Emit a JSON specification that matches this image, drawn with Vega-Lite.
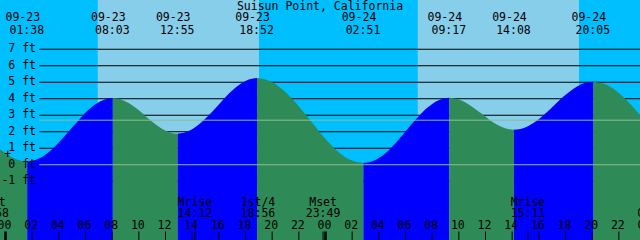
{
  "$schema": "https://vega.github.io/schema/vega-lite/v6.json",
  "width": 640,
  "height": 240,
  "autosize": {"type": "none"},
  "padding": 0,
  "background": "#00BFFF",
  "config": {
    "view": {"stroke": null},
    "text": {"font": "DejaVu Sans Mono", "fontSize": 11.5, "color": "black"}
  },
  "datasets": {
    "sky": [
      {"start": "2020-09-22T23:00:00", "end": "2020-09-23T06:55:00", "sky": "night"},
      {"start": "2020-09-23T06:55:00", "end": "2020-09-23T19:01:00", "sky": "day"},
      {"start": "2020-09-23T19:01:00", "end": "2020-09-24T06:55:00", "sky": "night"},
      {"start": "2020-09-24T06:55:00", "end": "2020-09-24T19:01:00", "sky": "day"},
      {"start": "2020-09-24T19:01:00", "end": "2020-09-25T01:00:00", "sky": "night"}
    ],
    "grid": [
      {"ft": -1, "label": "-1 ft"}, {"ft": 0, "label": "0 ft"}, {"ft": 1, "label": "1 ft"},
      {"ft": 2, "label": "2 ft"}, {"ft": 3, "label": "3 ft"}, {"ft": 4, "label": "4 ft"},
      {"ft": 5, "label": "5 ft"}, {"ft": 6, "label": "6 ft"}, {"ft": 7, "label": "7 ft"}
    ],
    "reflines": [{"line": "datum", "ft": 0}, {"line": "msl", "ft": 2.7}],
    "hours": [
      {"t": "2020-09-23T00:00:00"}, {"t": "2020-09-23T02:00:00"}, {"t": "2020-09-23T04:00:00"},
      {"t": "2020-09-23T06:00:00"}, {"t": "2020-09-23T08:00:00"}, {"t": "2020-09-23T10:00:00"},
      {"t": "2020-09-23T12:00:00"}, {"t": "2020-09-23T14:00:00"}, {"t": "2020-09-23T16:00:00"},
      {"t": "2020-09-23T18:00:00"}, {"t": "2020-09-23T20:00:00"}, {"t": "2020-09-23T22:00:00"},
      {"t": "2020-09-24T00:00:00"}, {"t": "2020-09-24T02:00:00"}, {"t": "2020-09-24T04:00:00"},
      {"t": "2020-09-24T06:00:00"}, {"t": "2020-09-24T08:00:00"}, {"t": "2020-09-24T10:00:00"},
      {"t": "2020-09-24T12:00:00"}, {"t": "2020-09-24T14:00:00"}, {"t": "2020-09-24T16:00:00"},
      {"t": "2020-09-24T18:00:00"}, {"t": "2020-09-24T20:00:00"}, {"t": "2020-09-24T22:00:00"},
      {"t": "2020-09-25T00:00:00"}
    ],
    "water": [
      {"seg": 0, "dir": "falling", "t": "2020-09-22T23:30:00", "ft": 1.0},
      {"seg": 0, "dir": "falling", "t": "2020-09-22T23:50:00", "ft": 0.8},
      {"seg": 0, "dir": "falling", "t": "2020-09-23T00:10:00", "ft": 0.61},
      {"seg": 0, "dir": "falling", "t": "2020-09-23T00:40:00", "ft": 0.38},
      {"seg": 0, "dir": "falling", "t": "2020-09-23T01:10:00", "ft": 0.24},
      {"seg": 0, "dir": "falling", "t": "2020-09-23T01:38:00", "ft": 0.2},
      {"seg": 1, "dir": "rising", "t": "2020-09-23T01:38:00", "ft": 0.2},
      {"seg": 1, "dir": "rising", "t": "2020-09-23T02:26:00", "ft": 0.346},
      {"seg": 1, "dir": "rising", "t": "2020-09-23T03:14:00", "ft": 0.762},
      {"seg": 1, "dir": "rising", "t": "2020-09-23T04:02:00", "ft": 1.385},
      {"seg": 1, "dir": "rising", "t": "2020-09-23T04:51:00", "ft": 2.12},
      {"seg": 1, "dir": "rising", "t": "2020-09-23T05:39:00", "ft": 2.855},
      {"seg": 1, "dir": "rising", "t": "2020-09-23T06:27:00", "ft": 3.478},
      {"seg": 1, "dir": "rising", "t": "2020-09-23T07:15:00", "ft": 3.894},
      {"seg": 1, "dir": "rising", "t": "2020-09-23T08:03:00", "ft": 4.04},
      {"seg": 2, "dir": "falling", "t": "2020-09-23T08:03:00", "ft": 4.04},
      {"seg": 2, "dir": "falling", "t": "2020-09-23T08:40:00", "ft": 3.958},
      {"seg": 2, "dir": "falling", "t": "2020-09-23T09:16:00", "ft": 3.724},
      {"seg": 2, "dir": "falling", "t": "2020-09-23T09:53:00", "ft": 3.373},
      {"seg": 2, "dir": "falling", "t": "2020-09-23T10:29:00", "ft": 2.96},
      {"seg": 2, "dir": "falling", "t": "2020-09-23T11:06:00", "ft": 2.547},
      {"seg": 2, "dir": "falling", "t": "2020-09-23T11:42:00", "ft": 2.196},
      {"seg": 2, "dir": "falling", "t": "2020-09-23T12:19:00", "ft": 1.962},
      {"seg": 2, "dir": "falling", "t": "2020-09-23T12:55:00", "ft": 1.88},
      {"seg": 3, "dir": "rising", "t": "2020-09-23T12:55:00", "ft": 1.88},
      {"seg": 3, "dir": "rising", "t": "2020-09-23T13:40:00", "ft": 2.008},
      {"seg": 3, "dir": "rising", "t": "2020-09-23T14:24:00", "ft": 2.374},
      {"seg": 3, "dir": "rising", "t": "2020-09-23T15:09:00", "ft": 2.92},
      {"seg": 3, "dir": "rising", "t": "2020-09-23T15:54:00", "ft": 3.565},
      {"seg": 3, "dir": "rising", "t": "2020-09-23T16:38:00", "ft": 4.21},
      {"seg": 3, "dir": "rising", "t": "2020-09-23T17:23:00", "ft": 4.756},
      {"seg": 3, "dir": "rising", "t": "2020-09-23T18:07:00", "ft": 5.122},
      {"seg": 3, "dir": "rising", "t": "2020-09-23T18:52:00", "ft": 5.25},
      {"seg": 4, "dir": "falling", "t": "2020-09-23T18:52:00", "ft": 5.25},
      {"seg": 4, "dir": "falling", "t": "2020-09-23T19:52:00", "ft": 5.054},
      {"seg": 4, "dir": "falling", "t": "2020-09-23T20:52:00", "ft": 4.496},
      {"seg": 4, "dir": "falling", "t": "2020-09-23T21:52:00", "ft": 3.66},
      {"seg": 4, "dir": "falling", "t": "2020-09-23T22:52:00", "ft": 2.675},
      {"seg": 4, "dir": "falling", "t": "2020-09-23T23:51:00", "ft": 1.69},
      {"seg": 4, "dir": "falling", "t": "2020-09-24T00:51:00", "ft": 0.854},
      {"seg": 4, "dir": "falling", "t": "2020-09-24T01:51:00", "ft": 0.296},
      {"seg": 4, "dir": "falling", "t": "2020-09-24T02:51:00", "ft": 0.1},
      {"seg": 5, "dir": "rising", "t": "2020-09-24T02:51:00", "ft": 0.1},
      {"seg": 5, "dir": "rising", "t": "2020-09-24T03:39:00", "ft": 0.251},
      {"seg": 5, "dir": "rising", "t": "2020-09-24T04:28:00", "ft": 0.68},
      {"seg": 5, "dir": "rising", "t": "2020-09-24T05:16:00", "ft": 1.322},
      {"seg": 5, "dir": "rising", "t": "2020-09-24T06:04:00", "ft": 2.08},
      {"seg": 5, "dir": "rising", "t": "2020-09-24T06:52:00", "ft": 2.838},
      {"seg": 5, "dir": "rising", "t": "2020-09-24T07:41:00", "ft": 3.48},
      {"seg": 5, "dir": "rising", "t": "2020-09-24T08:29:00", "ft": 3.909},
      {"seg": 5, "dir": "rising", "t": "2020-09-24T09:17:00", "ft": 4.06},
      {"seg": 6, "dir": "falling", "t": "2020-09-24T09:17:00", "ft": 4.06},
      {"seg": 6, "dir": "falling", "t": "2020-09-24T09:53:00", "ft": 3.986},
      {"seg": 6, "dir": "falling", "t": "2020-09-24T10:30:00", "ft": 3.776},
      {"seg": 6, "dir": "falling", "t": "2020-09-24T11:06:00", "ft": 3.461},
      {"seg": 6, "dir": "falling", "t": "2020-09-24T11:43:00", "ft": 3.09},
      {"seg": 6, "dir": "falling", "t": "2020-09-24T12:19:00", "ft": 2.719},
      {"seg": 6, "dir": "falling", "t": "2020-09-24T12:55:00", "ft": 2.404},
      {"seg": 6, "dir": "falling", "t": "2020-09-24T13:32:00", "ft": 2.194},
      {"seg": 6, "dir": "falling", "t": "2020-09-24T14:08:00", "ft": 2.12},
      {"seg": 7, "dir": "rising", "t": "2020-09-24T14:08:00", "ft": 2.12},
      {"seg": 7, "dir": "rising", "t": "2020-09-24T14:53:00", "ft": 2.231},
      {"seg": 7, "dir": "rising", "t": "2020-09-24T15:37:00", "ft": 2.546},
      {"seg": 7, "dir": "rising", "t": "2020-09-24T16:22:00", "ft": 3.018},
      {"seg": 7, "dir": "rising", "t": "2020-09-24T17:07:00", "ft": 3.575},
      {"seg": 7, "dir": "rising", "t": "2020-09-24T17:51:00", "ft": 4.132},
      {"seg": 7, "dir": "rising", "t": "2020-09-24T18:36:00", "ft": 4.604},
      {"seg": 7, "dir": "rising", "t": "2020-09-24T19:20:00", "ft": 4.919},
      {"seg": 7, "dir": "rising", "t": "2020-09-24T20:05:00", "ft": 5.03},
      {"seg": 8, "dir": "falling", "t": "2020-09-24T20:05:00", "ft": 5.03},
      {"seg": 8, "dir": "falling", "t": "2020-09-24T21:04:00", "ft": 4.842},
      {"seg": 8, "dir": "falling", "t": "2020-09-24T22:04:00", "ft": 4.308},
      {"seg": 8, "dir": "falling", "t": "2020-09-24T23:03:00", "ft": 3.508},
      {"seg": 8, "dir": "falling", "t": "2020-09-24T23:40:00", "ft": 2.93}
    ],
    "tides": [
      {"t": "2020-09-23T01:38:00", "tide": "low", "ft": 0.2},
      {"t": "2020-09-23T08:03:00", "tide": "high", "ft": 4.04},
      {"t": "2020-09-23T12:55:00", "tide": "low", "ft": 1.88},
      {"t": "2020-09-23T18:52:00", "tide": "high", "ft": 5.25},
      {"t": "2020-09-24T02:51:00", "tide": "low", "ft": 0.1},
      {"t": "2020-09-24T09:17:00", "tide": "high", "ft": 4.06},
      {"t": "2020-09-24T14:08:00", "tide": "low", "ft": 2.12},
      {"t": "2020-09-24T20:05:00", "tide": "high", "ft": 5.03}
    ],
    "moon": [
      {"t": "2020-09-22T22:58:00", "event": "Mset"},
      {"t": "2020-09-23T14:12:00", "event": "Mrise"},
      {"t": "2020-09-23T18:56:00", "event": "1st/4"},
      {"t": "2020-09-23T23:49:00", "event": "Mset"},
      {"t": "2020-09-24T15:11:00", "event": "Mrise"},
      {"t": "2020-09-25T00:41:00", "event": "Mset"}
    ],
    "marker": [{"t": "2020-09-23T00:10:00", "ft": 0.62}]
  },
  "layer": [
    {
      "data": {"name": "sky"},
      "mark": {"type": "rect", "clip": true},
      "encoding": {
        "x": {"field": "start", "type": "temporal", "axis": null,
              "scale": {"domain": [{"year": 2020, "month": 9, "date": 22, "hours": 23, "minutes": 35, "seconds": 15}, {"year": 2020, "month": 9, "date": 24, "hours": 23, "minutes": 35, "seconds": 15}], "nice": false}},
        "x2": {"field": "end"},
        "color": {"field": "sky", "type": "nominal", "legend": null,
                  "scale": {"domain": ["night", "day", "rising", "falling"], "range": ["#00BFFF", "#87CEEB", "#0000FF", "#2E8B57"]}}
      }
    },
    {
      "data": {"name": "grid"},
      "mark": {"type": "rule", "color": "black", "strokeWidth": 1, "clip": true},
      "encoding": {
        "x": {"datum": {"year": 2020, "month": 9, "date": 23, "hours": 2, "minutes": 32}, "type": "temporal", "axis": null},
        "x2": {"datum": {"year": 2020, "month": 9, "date": 24, "hours": 23, "minutes": 40}},
        "y": {"field": "ft", "type": "quantitative", "axis": null,
              "scale": {"domain": [-4.5606, 9.9848], "nice": false, "zero": false}}
      }
    },
    {
      "data": {"name": "water"},
      "mark": {"type": "area", "interpolate": "monotone", "clip": true},
      "encoding": {
        "x": {"field": "t", "type": "temporal", "axis": null},
        "y": {"field": "ft", "type": "quantitative", "stack": null, "axis": null},
        "y2": {"datum": -4.5606},
        "color": {"field": "dir", "type": "nominal", "legend": null,
                  "scale": {"domain": ["night", "day", "rising", "falling"], "range": ["#00BFFF", "#87CEEB", "#0000FF", "#2E8B57"]}},
        "detail": {"field": "seg", "type": "nominal"}
      }
    },
    {
      "data": {"name": "reflines"},
      "mark": {"type": "rule", "color": "#8FBC8F", "strokeWidth": 1, "clip": true},
      "encoding": {
        "x": {"datum": {"year": 2020, "month": 9, "date": 23, "hours": 2, "minutes": 32}, "type": "temporal", "axis": null},
        "x2": {"datum": {"year": 2020, "month": 9, "date": 24, "hours": 23, "minutes": 40}},
        "y": {"field": "ft", "type": "quantitative", "axis": null}
      }
    },
    {
      "data": {"name": "grid"},
      "mark": {"type": "text", "baseline": "middle", "align": "right"},
      "encoding": {
        "x": {"datum": {"year": 2020, "month": 9, "date": 23, "hours": 2, "minutes": 17, "seconds": 15}, "type": "temporal", "axis": null},
        "y": {"field": "ft", "type": "quantitative", "axis": null},
        "text": {"field": "label", "type": "nominal"}
      }
    },
    {
      "data": {"name": "hours"},
      "mark": {"type": "rule", "color": "black", "clip": true},
      "encoding": {
        "x": {"field": "t", "type": "temporal", "axis": null},
        "y": {"datum": -4.045, "axis": null},
        "y2": {"datum": -4.5606},
        "strokeWidth": {"condition": {"test": "hours(datum.t) === 0", "value": 2.5}, "value": 1}
      }
    },
    {
      "data": {"name": "hours"},
      "mark": {"type": "text", "baseline": "middle", "align": "center", "dx": -1},
      "encoding": {
        "x": {"field": "t", "type": "temporal", "axis": null},
        "y": {"datum": -3.682, "axis": null},
        "text": {"field": "t", "type": "temporal", "format": "%H"}
      }
    },
    {
      "data": {"name": "moon"},
      "transform": [{"filter": "datum.event !== '1st/4'"}],
      "mark": {"type": "rule", "color": "black", "strokeWidth": 1},
      "encoding": {
        "x": {"field": "t", "type": "temporal", "axis": null},
        "y": {"datum": -4.045, "axis": null},
        "y2": {"datum": -4.5606}
      }
    },
    {
      "data": {"name": "tides"},
      "mark": {"type": "text", "baseline": "middle", "align": "center", "dx": -4.5},
      "encoding": {
        "x": {"field": "t", "type": "temporal", "axis": null},
        "y": {"datum": 8.89, "axis": null},
        "text": {"field": "t", "type": "temporal", "format": "%m-%d"}
      }
    },
    {
      "data": {"name": "tides"},
      "mark": {"type": "text", "baseline": "middle", "align": "center", "dx": -0.5},
      "encoding": {
        "x": {"field": "t", "type": "temporal", "axis": null},
        "y": {"datum": 8.12, "axis": null},
        "text": {"field": "t", "type": "temporal", "format": "%H:%M"}
      }
    },
    {
      "data": {"name": "moon"},
      "mark": {"type": "text", "baseline": "middle", "align": "center"},
      "encoding": {
        "x": {"field": "t", "type": "temporal", "axis": null},
        "y": {"datum": -2.3, "axis": null},
        "text": {"field": "event", "type": "nominal"}
      }
    },
    {
      "data": {"name": "moon"},
      "mark": {"type": "text", "baseline": "middle", "align": "center"},
      "encoding": {
        "x": {"field": "t", "type": "temporal", "axis": null},
        "y": {"datum": -3.0, "axis": null},
        "text": {"field": "t", "type": "temporal", "format": "%H:%M"}
      }
    },
    {
      "data": {"name": "marker"},
      "mark": {"type": "text", "baseline": "middle", "align": "center", "text": "+"},
      "encoding": {
        "x": {"field": "t", "type": "temporal", "axis": null},
        "y": {"field": "ft", "type": "quantitative", "axis": null}
      }
    },
    {
      "data": {"values": [{"name": "Suisun Point, California"}]},
      "mark": {"type": "text", "baseline": "middle", "align": "center"},
      "encoding": {
        "y": {"datum": 9.56, "axis": null},
        "text": {"field": "name", "type": "nominal"}
      }
    }
  ]
}
